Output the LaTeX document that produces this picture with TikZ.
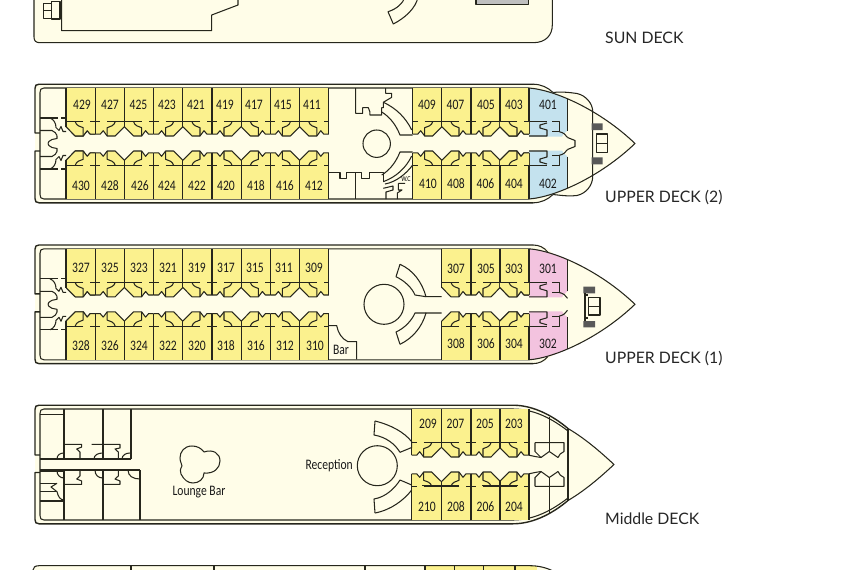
\documentclass[tikz,border=0pt]{standalone}
\usepackage{fontspec}
\newfontfamily\cabinfont[FakeStretch=0.8]{Carlito}
\newfontfamily\labelfont{Lato}
\definecolor{deckcream}{HTML}{FFFDE8}
\definecolor{cabinyellow}{HTML}{FBF18E}
\definecolor{wallink}{HTML}{26261C}
\definecolor{suiteblue}{HTML}{C4E2EE}
\definecolor{suitepink}{HTML}{F3C3DF}

% door recess of one cabin: x of the wall, side, row
\newcommand{\doorcell}[3]{%
  \begin{scope}[shift={(#1,-21.8*#3)},xscale=#2,yscale=#3]
    \fill[cabinyellow] (0,0)--(29.2,0)--(29.2,5)--(20,14.3)--(12,14.3)--(8,9)--(5,12.5)--(0,12.5)--cycle;
    \draw[wall] (0,12.5)--(5,12.5)--(8,9)--(12,14.3)--(20,14.3)--(29.2,5);
    \draw[wall] (0,0)--(5,0) (12,0)--(29.2,0);
    \draw[wall] (20,0) .. controls (19,4) and (15,5) .. (12,6) -- (12,14.3);
  \end{scope}}
\newcommand{\doorfour}[1]{%
  \doorcell{#1}{1}{1}\doorcell{#1}{-1}{1}\doorcell{#1}{1}{-1}\doorcell{#1}{-1}{-1}}
\newcommand{\twall}[1]{\draw[wall] (#1,-55.5)--(#1,-9.3) (#1,55.5)--(#1,9.3);}
\newcommand{\ywall}[1]{\draw[wall] (#1,-55.5)--(#1,-16.8) (#1,55.5)--(#1,16.8);}

% hull without the bow
\newcommand{\hullbody}{%
  \fill[deckcream] (39,-59.3)--(533,-59.3) .. controls (541,-59.3) and (548,-56) .. (553,-51)
    --(553,51) .. controls (548,56) and (541,59.3) .. (533,59.3)--(39,59.3)
    .. controls (36,59.3) and (35,58) .. (35,55)--(35,-55) .. controls (35,-58) and (36,-59.3) .. (39,-59.3);
  \draw[hull] (40,-10.5)--(35,-10.5)--(35,-55) .. controls (35,-58) and (36,-59.3) .. (39,-59.3)--(533,-59.3);
  \draw[hull] (40,7.5)--(35,7.5)--(35,55) .. controls (35,58) and (36,59.3) .. (39,59.3)--(533,59.3);
  \draw[wall] (529,-55.5)--(44,-55.5) .. controls (41,-55.5) and (40,-54) .. (40,-51)--(40,51)
    .. controls (40,54) and (41,55.5) .. (44,55.5)--(529,55.5);}

% stern rooms, upper decks
\newcommand{\sternhalf}[1]{%
  \begin{scope}[yscale=#1]
    \draw[wall] (40,-25.5)--(58,-25.5) (61,-25.5)--(66,-25.5);
    \draw[wall] (50,-25.5) .. controls (54,-24) and (56,-20) .. (56,-16)--(59,-13)--(61,-17)--(63,-12)--(66,-12);
    \draw[wall] (40,-13)--(52,-13) .. controls (55,-12) and (56,-10) .. (57,-8);
    \draw[wall] (57,-8)--(57,-5)--(52,-4) .. controls (49,-3) and (48,-1) .. (48,0);
  \end{scope}}

% left and right cabins of the upper decks
\newcommand{\sterncabins}{%
  \fill[cabinyellow] (66,-55.5) rectangle (328.8,-21.8);
  \fill[cabinyellow] (66,55.5) rectangle (328.8,21.8);
  \doorcell{95.2}{-1}{1}\doorcell{95.2}{-1}{-1}
  \doorfour{95.2}\doorfour{153.6}\doorfour{212}\doorfour{270.4}
  \doorcell{328.8}{-1}{1}\doorcell{328.8}{-1}{-1}
  \twall{95.2}\ywall{66}\ywall{124.4}\twall{153.6}\ywall{182.8}\twall{212}\ywall{241.2}\twall{270.4}\ywall{299.6}\twall{328.8}
  \sternhalf{1}\sternhalf{-1}}
\newcommand{\bowcabins}{%
  \fill[cabinyellow] (441.7,-55.5) rectangle (529,-21.8);
  \fill[cabinyellow] (441.7,55.5) rectangle (529,21.8);
  \doorfour{471}
  \doorcell{529}{-1}{1}\doorcell{529}{-1}{-1}
  \ywall{441.7}\twall{471}\ywall{500}}

% corner suite
\newcommand{\suitehalf}[2]{%
  \begin{scope}[yscale=#2]
    \fill[#1] (529,-55.5) .. controls (542,-54.5) and (556,-50.5) .. (567.5,-44.7)--(567.5,-13)
      .. controls (564,-10) and (562,-8) .. (562,-7)--(529,-7)--cycle;
    \draw[wall] (524,-21.8)--(547,-21.8) (552,-21.8)--(559.3,-21.8)--(559.3,-11.8)--(552,-11.8);
    \draw[wall] (529,-7.5)--(547,-7.5)--(547,-13.5)--(540,-15.5)--(540,-18.5)--(547,-20.5);
    \draw[wall] (559.3,-11.8) .. controls (563,-11) and (566,-9) .. (567.5,-6);
    \draw[wall] (567.5,-44.7)--(567.5,-13);
    \draw[wall] (529,-55.5)--(529,-9.3);
  \end{scope}}

\begin{document}
\begin{tikzpicture}[
  x=1pt,
  y=-1pt,
  wall/.style={line width=1.05pt, wallink, line join=round},
  hull/.style={line width=1.4pt, wallink, line join=round},
  cabinno/.style={font=\cabinfont\fontsize{14.5}{15}\selectfont, text=black!90, inner sep=0pt},
  roomname/.style={font=\cabinfont\fontsize{14.5}{15}\selectfont, text=black!90, inner sep=0pt},
  decklabel/.style={font=\labelfont\fontsize{15.8}{16}\selectfont, text=black!85, anchor=west, inner sep=0pt}
  ]
\useasboundingbox (0,0) rectangle (857,570);
\clip (0,0) rectangle (857,570);
\fill[white] (0,0) rectangle (857,570);

% sun deck
\fill[deckcream] (34,-3)--(34,37) .. controls (34,41) and (36,42.7) .. (40,42.7)--(533,42.7)
  .. controls (546,42.7) and (552.3,35) .. (552.3,25)--(552.3,-3)--cycle;
\draw[wall] (34,-3)--(34,37) .. controls (34,41) and (36,42.7) .. (40,42.7)--(533,42.7)
  .. controls (546,42.7) and (552.3,35) .. (552.3,25)--(552.3,-3);
\draw[wall] (61.7,-3)--(61.7,30.7)--(211.7,30.7)--(211.7,15)--(238,5)--(238,-3);
\draw[wall] (43.3,3.3) rectangle (51.7,18.3) (51.7,1.3) rectangle (60,19) (43.3,10.5)--(51.7,10.5);
\draw[wall] (405,-3) .. controls (403,3) and (397,9) .. (388,11.7)--(393.3,24) .. controls (405,18) and (416,8) .. (418,-3);
\fill[black!25] (476,-3) rectangle (528.3,4.7);
\draw[wall] (476,-3) rectangle (528.3,4.7);
\node[decklabel] (sundeck) at (605,37.5) {SUN DECK};

% upper deck 2
\begin{scope}[shift={(0,143.5)}]
  \fill[deckcream] (553,-51) .. controls (562,-52) and (570,-51) .. (577,-50)
    .. controls (586,-48) and (592.7,-40) .. (592.7,-32)--(592.7,0)--(592.7,33)
    .. controls (592.7,42) and (586,50) .. (577,52) .. controls (570,53) and (562,52) .. (553,51)--cycle;
  \fill[deckcream] (529,-55.5) .. controls (555,-53.5) and (600,-33.5) .. (635,0)
    .. controls (600,33.5) and (555,53.5) .. (529,55.5)--cycle;
  \hullbody
  \draw[wall] (533,-59.3) .. controls (541,-59.3) and (548,-56) .. (553,-51);
  \draw[wall] (533,59.3) .. controls (541,59.3) and (548,56) .. (553,51);
  \draw[wall] (553,-51) .. controls (562,-52) and (570,-51) .. (577,-50)
    .. controls (586,-48) and (592.7,-40) .. (592.7,-32)--(592.7,33)
    .. controls (592.7,42) and (586,50) .. (577,52) .. controls (570,53) and (562,52) .. (553,51);
  \sterncabins
  \bowcabins
  \fill[cabinyellow] (412.7,-55.5) rectangle (441.7,-21.8);
  \fill[cabinyellow] (412.7,55.5) rectangle (441.7,21.8);
  \doorcell{412.7}{1}{1}\doorcell{412.7}{1}{-1}
  \twall{412.7}\ywall{441.7}\twall{471}\ywall{500}
  \suitehalf{suiteblue}{1}\suitehalf{suiteblue}{-1}
  \doorcell{529}{-1}{1}\doorcell{529}{-1}{-1}
  \draw[wall] (529,-55.5) .. controls (555,-53.5) and (600,-33.5) .. (635,0)
    .. controls (600,33.5) and (555,53.5) .. (529,55.5);
  \draw[wall] (567.5,-6)--(575,-3)--(575,3)--(567.5,6);
\end{scope}
\fill[black!65] (591.7,123.3) rectangle (602.7,130) (591.7,157.3) rectangle (602.7,164.3);
\draw[wall] (596.7,134) rectangle (607.3,152.7) (596.7,143.3)--(607.3,143.3);
\draw[wall] (376.7,143.7) circle (13.7);
\draw[wall] (355.7,88)--(355.7,113.3)--(362.7,113.3)--(362.7,107.7)--(368.3,107.7)
  .. controls (370,110) and (370,113) .. (370,115)--(381.7,115)--(381.7,107.7)--(383.3,107.7)--(383.3,102.3)--(391.7,97.3)--(391.7,93.3)--(385.7,93.3)--(385.7,88);
\draw[wall] (383.3,102.3) .. controls (396,108) and (406,118) .. (411.7,130);
\draw[wall] (381.7,112) .. controls (390,117) and (396,125) .. (400,135)--(412.7,135);
\draw[wall] (328.8,172.7)--(340,172.7)--(340,178.3)--(346.7,178.3)--(346.7,172.7)--(355.7,172.7)--(361.7,172.7)--(361.7,178.3)--(369.3,178.3)--(369.3,172.7)--(383.3,172.7)--(383.3,181.7);
\draw[wall] (355.7,172.7)--(355.7,199);
\draw[wall] (383.3,181.7) .. controls (396,177) and (406,168) .. (411.7,156);
\draw[wall] (381.7,175) .. controls (390,170) and (396,162) .. (400,152)--(412.7,152);
\draw[wall] (385,184) .. controls (396,182) and (406,174) .. (412.7,165);
\draw[wall] (383.3,188.3)--(393,186)--(393,190)--(386,192)--(386,199);
\draw[wall] (398.3,183.3)--(405,183.3) (398.3,183.3)--(398.3,190)--(402,190)--(397.3,193)--(397.3,199);
\node[inner sep=0pt, font=\cabinfont\fontsize{7.5}{8}\selectfont] (wc) at (406,179) {W.C};
\node[cabinno] (c429) at (82,105) {429};
\node[cabinno] (c427) at (110,105) {427};
\node[cabinno] (c425) at (138.5,105) {425};
\node[cabinno] (c423) at (167,105) {423};
\node[cabinno] (c421) at (196,105) {421};
\node[cabinno] (c419) at (225,105) {419};
\node[cabinno] (c417) at (254,105) {417};
\node[cabinno] (c415) at (283,105) {415};
\node[cabinno] (c411) at (312,105) {411};
\node[cabinno] (c409) at (427,105) {409};
\node[cabinno] (c407) at (455.5,105) {407};
\node[cabinno] (c405) at (486,105) {405};
\node[cabinno] (c403) at (514,105) {403};
\node[cabinno] (c401) at (548,105) {401};
\node[cabinno] (c430) at (81,186) {430};
\node[cabinno] (c428) at (110,186) {428};
\node[cabinno] (c426) at (140,186) {426};
\node[cabinno] (c424) at (167,186) {424};
\node[cabinno] (c422) at (197,186) {422};
\node[cabinno] (c420) at (226,186) {420};
\node[cabinno] (c418) at (256,186) {418};
\node[cabinno] (c416) at (285,186) {416};
\node[cabinno] (c412) at (314,186) {412};
\node[cabinno] (c410) at (428,184) {410};
\node[cabinno] (c408) at (456,184) {408};
\node[cabinno] (c406) at (485.5,184) {406};
\node[cabinno] (c404) at (514,184) {404};
\node[cabinno] (c402) at (548,184) {402};
\node[decklabel] (upperdecktwo) at (605,198) {UPPER DECK (2)};

% upper deck 1
\begin{scope}[shift={(0,304.3)}]
  \fill[deckcream] (529,-55.5) .. controls (555,-53.5) and (600,-33.5) .. (635,0)
    .. controls (600,33.5) and (555,53.5) .. (529,55.5)--cycle;
  \hullbody
  \draw[wall] (533,-59.3) .. controls (539,-59.3) and (544,-57) .. (548,-52);
  \draw[wall] (533,59.3) .. controls (539,59.3) and (544,57) .. (548,52);
  \sterncabins
  \bowcabins
  \twall{471}\ywall{500}
  \suitehalf{suitepink}{1}\suitehalf{suitepink}{-1}
  \doorcell{529}{-1}{1}\doorcell{529}{-1}{-1}
  \draw[wall] (529,-55.5) .. controls (555,-53.5) and (600,-33.5) .. (635,0)
    .. controls (600,33.5) and (555,53.5) .. (529,55.5);
\end{scope}
\fill[black!65] (583.3,286.7) rectangle (595,293.3) (583.3,321) rectangle (595,327.3);
\draw[wall] (585,293.3)--(585,321) (585,295)--(588.3,295) (585,318)--(588.3,318);
\draw[wall] (588.3,297.7) rectangle (600,315) (588.3,306.5)--(600,306.5);
\draw[wall] (384,304.3) circle (20);
\draw[wall] (400,264.3) .. controls (413,270) and (422,282) .. (426,296.7)--(441.7,296.7);
\draw[wall] (400,264.3)--(396,276.7) .. controls (405,281) and (412,288) .. (415,295)--(426,296.7);
\draw[wall] (400,344.3) .. controls (413,338) and (422,327) .. (426,313)--(441.7,313);
\draw[wall] (400,344.3)--(396,332) .. controls (405,328) and (412,320) .. (415,313)--(426,313);
\draw[wall] (328.8,325.7)--(336.7,325.7) .. controls (338,333) and (342,339) .. (348,341.7)--(356.7,341.7)--(356.7,359.3);
\node[roomname] (bar) at (341,350) {Bar};
\node[cabinno] (c327) at (81,268) {327};
\node[cabinno] (c325) at (110,268) {325};
\node[cabinno] (c323) at (139,268) {323};
\node[cabinno] (c321) at (168,268) {321};
\node[cabinno] (c319) at (197,268) {319};
\node[cabinno] (c317) at (226,268) {317};
\node[cabinno] (c315) at (255,268) {315};
\node[cabinno] (c311) at (284,268) {311};
\node[cabinno] (c309) at (314,268) {309};
\node[cabinno] (c307) at (456,268.5) {307};
\node[cabinno] (c305) at (486,268.5) {305};
\node[cabinno] (c303) at (514,268.5) {303};
\node[cabinno] (c301) at (548,268.5) {301};
\node[cabinno] (c328) at (81,346) {328};
\node[cabinno] (c326) at (110,346) {326};
\node[cabinno] (c324) at (139,346) {324};
\node[cabinno] (c322) at (168,346) {322};
\node[cabinno] (c320) at (197,346) {320};
\node[cabinno] (c318) at (226,346) {318};
\node[cabinno] (c316) at (256,346) {316};
\node[cabinno] (c312) at (285,346) {312};
\node[cabinno] (c310) at (315,346) {310};
\node[cabinno] (c308) at (456,344) {308};
\node[cabinno] (c306) at (486,344) {306};
\node[cabinno] (c304) at (514,344) {304};
\node[cabinno] (c302) at (548,344) {302};
\node[decklabel] (upperdeckone) at (605,358.5) {UPPER DECK (1)};

% middle deck
\begin{scope}[shift={(0,464.5)}]
  \fill[deckcream] (39,-59.3)--(513,-59.3) .. controls (535,-59.3) and (555,-47) .. (568,-36)
    .. controls (585,-26) and (600,-13) .. (614,0) .. controls (600,13) and (585,26) .. (568,36)
    .. controls (555,47) and (535,59.3) .. (513,59.3)--(39,59.3)--(35,55)--(35,-55)--cycle;
  \draw[hull] (40,-9.5)--(35,-9.5)--(35,-55) .. controls (35,-58) and (36,-59.3) .. (39,-59.3)--(513,-59.3)
    .. controls (535,-59.3) and (555,-47) .. (568,-36);
  \draw[hull] (40,8)--(35,8)--(35,55) .. controls (35,58) and (36,59.3) .. (39,59.3)--(513,59.3)
    .. controls (535,59.3) and (555,47) .. (568,36);
  \draw[wall] (513,-55.5)--(44,-55.5) .. controls (41,-55.5) and (40,-54) .. (40,-51)--(40,51)
    .. controls (40,54) and (41,55.5) .. (44,55.5)--(513,55.5);
  \draw[wall] (513,-55.5) .. controls (535,-55.5) and (553,-45) .. (568,-33.5);
  \draw[wall] (513,55.5) .. controls (535,55.5) and (553,45) .. (568,33.5);
  \draw[wall] (568,-36) .. controls (585,-26) and (600,-13) .. (614,0) .. controls (600,13) and (585,26) .. (568,36);
  \draw[wall] (568,-36)--(568,36);
  \bowcabins
  \fill[cabinyellow] (411.7,-55.5) rectangle (441.7,-21.8);
  \fill[cabinyellow] (411.7,55.5) rectangle (441.7,21.8);
  \doorcell{411.7}{1}{1}\doorcell{411.7}{1}{-1}
  \draw[wall] (411.7,-55.5)--(411.7,-9.3) (411.7,55.5)--(411.7,9.3);
  \twall{471}\ywall{441.7}\ywall{500}
  \draw[wall] (529,-55.5)--(529,-9.3) (529,55.5)--(529,9.3);
  \draw[wall] (422,21.2)--(459,21.2) (482,21.2)--(518,21.2);
  % forward rooms
  \draw[wall] (549.3,-48)--(549.3,-13) (549.3,48)--(549.3,13);
  \draw[wall] (535,-21.8)--(564,-21.8)--(564,-13) .. controls (561,-12) and (559,-9.5) .. (558,-7);
  \draw[wall] (535,-21.8)--(535,-13)--(541,-7)--(549.3,-13)--(558,-7);
  \draw[wall] (529,-9.3)--(535,-8)--(541,-7);
  \draw[wall] (535,21.8)--(564,21.8)--(564,13) .. controls (561,12) and (559,9.5) .. (558,7);
  \draw[wall] (535,21.8)--(535,13)--(541,7)--(549.3,13)--(558,7);
  \draw[wall] (529,9.3)--(535,8)--(541,7);
\end{scope}
\draw[wall] (377.3,465.7) circle (20);
\draw[wall] (375,421) .. controls (391,425) and (404,432) .. (411.7,441.7)--(411.7,448);
\draw[wall] (375,421)--(374,435) .. controls (386,437) and (395,444) .. (400,452.3)--(411.7,447.5);
\draw[wall] (375,513) .. controls (391,510) and (404,500) .. (411.7,490);
\draw[wall] (375,513)--(374,499) .. controls (386,497) and (395,488) .. (400,480)--(411.7,485);
\node[roomname, anchor=east] (reception) at (353,466) {Reception};
\draw[wall] (192,446) .. controls (184,446) and (180,452) .. (180,458)
  .. controls (180,462) and (182,464) .. (182,466) .. controls (180,469) and (180,472) .. (181,474)
  .. controls (184,480) and (188,483) .. (193,483) .. controls (199,483) and (204,479) .. (204,473)
  .. controls (214,474) and (220,468) .. (220,461) .. controls (220,453) and (213,449) .. (204,452)
  .. controls (201,448) and (197,446) .. (192,446);
\node[roomname] (loungebar) at (199,492) {Lounge Bar};
% stern rooms
\draw[wall] (40,414.3)--(64,414.3) (40,459)--(131,459) (40,470)--(140,470);
\draw[wall] (64,409)--(64,459) (103,409)--(103,459) (131,409)--(131,459);
\draw[wall] (64,470)--(64,520) (103,470)--(103,520) (140,470)--(140,520);
\draw[wall] (64,444.3)--(81.7,444.3)--(81.7,447)--(76.7,449)--(80,452)--(80,459);
\draw[wall] (91.7,444.3)--(120,444.3)--(120,448)--(115,449)--(118.3,452)--(118.3,459);
\draw[wall] (57,459) .. controls (57,455) and (60,453) .. (64,453);
\draw[wall] (94,459) .. controls (94,455) and (98,453) .. (103,453);
\draw[wall] (122,459) .. controls (122,455) and (126,453) .. (130,453);
\draw[wall] (64,484.3)--(81.7,484.3)--(81.7,481)--(76.7,479)--(80,476)--(80,470);
\draw[wall] (103,484.3)--(120,484.3)--(120,481)--(115,479)--(118.3,476)--(118.3,470);
\draw[wall] (95,470) .. controls (95,475) and (98,478) .. (103,478);
\draw[wall] (128,470) .. controls (128,476) and (133,479) .. (140,479);
\draw[wall] (40,471)--(64,471) (40,483.3)--(57,483.3) (40,491.7)--(57,491.7) (40,501)--(64,501);
\draw[wall] (57,471) .. controls (57,475) and (60,478) .. (64,478);
\draw[wall] (57,483.3)--(51,487)--(57,491.7) .. controls (58,496) and (60,500) .. (64,500);
\node[cabinno] (c209) at (428,424.3) {209};
\node[cabinno] (c207) at (455.5,424.3) {207};
\node[cabinno] (c205) at (485,424.3) {205};
\node[cabinno] (c203) at (514,424.3) {203};
\node[cabinno] (c210) at (427,506.7) {210};
\node[cabinno] (c208) at (456,506.7) {208};
\node[cabinno] (c206) at (485.5,506.7) {206};
\node[cabinno] (c204) at (514,506.7) {204};
\node[decklabel] (middledeck) at (605,519) {Middle DECK};

% lower deck, cut off
\fill[deckcream] (33,573)--(33,570) .. controls (33,567.5) and (35,565.7) .. (39,565.7)--(530,565.7)
  .. controls (538,565.7) and (546,567.5) .. (553,571)--cycle;
\fill[cabinyellow] (425,566) rectangle (537,571);
\draw[wall] (33,573)--(33,570) .. controls (33,567.5) and (35,565.7) .. (39,565.7)--(530,565.7)
  .. controls (538,565.7) and (546,567.5) .. (553,571);
\draw[wall] (131,565.7)--(131,572) (214,565.7)--(214,572) (365,565.7)--(365,572) (425,565.7)--(425,572)
  (454.7,565.7)--(454.7,572) (483.3,565.7)--(483.3,572) (515,565.7)--(515,572);

\end{tikzpicture}
\end{document}
